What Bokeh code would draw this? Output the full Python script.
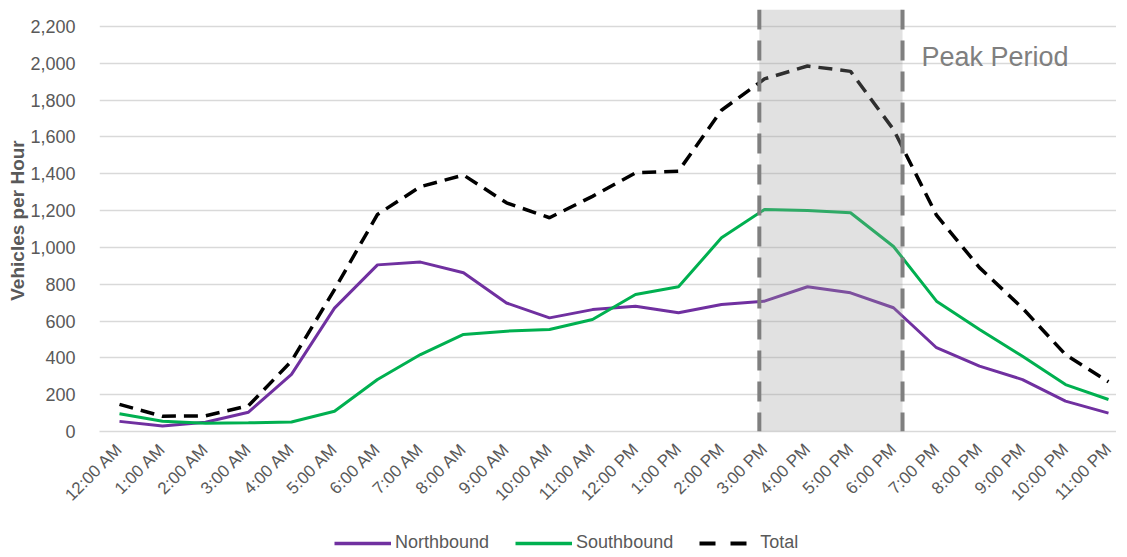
import math
from bokeh.plotting import figure
from bokeh.layouts import column
from bokeh.models import (ColumnDataSource, FixedTicker, NumeralTickFormatter, BoxAnnotation,
                          Span, Label, Legend, LegendItem, Range1d)
from bokeh.embed import file_html
from bokeh.resources import INLINE

hours = ["12:00 AM", "1:00 AM", "2:00 AM", "3:00 AM", "4:00 AM", "5:00 AM", "6:00 AM",
         "7:00 AM", "8:00 AM", "9:00 AM", "10:00 AM", "11:00 AM", "12:00 PM", "1:00 PM",
         "2:00 PM", "3:00 PM", "4:00 PM", "5:00 PM", "6:00 PM", "7:00 PM", "8:00 PM",
         "9:00 PM", "10:00 PM", "11:00 PM"]
northbound = [55, 30, 50, 105, 310, 670, 905, 920, 862, 698, 617, 662, 680, 645, 690, 708,
              786, 753, 672, 455, 355, 282, 165, 100]
southbound = [96, 56, 45, 47, 52, 110, 282, 418, 527, 545, 554, 608, 744, 786, 1052, 1206,
              1200, 1188, 1005, 708, 554, 409, 255, 174]
total = [147, 83, 85, 140, 382, 771, 1179, 1330, 1393, 1242, 1161, 1277, 1405, 1414, 1745,
         1915, 1985, 1956, 1640, 1175, 890, 670, 418, 270]
y_ticks = [0, 200, 400, 600, 800, 1000, 1200, 1400, 1600, 1800, 2000, 2200]
series_names = ["Northbound", "Southbound", "Total"]
peak_start, peak_end = 14.88, 18.21
peak_label = "Peak Period"

FONT = "Liberation Sans"
GREY = "#595959"
NB_COLOR, SB_COLOR, TOT_COLOR = "#7030A0", "#00B050", "black"
TOT_DASH = "14 8"

idx = list(range(len(hours)))
src = ColumnDataSource(dict(x=idx, nb=northbound, sb=southbound, tot=total))

W, H = 1116, 522
LEFT, TOP, FRAME_H = 99, 9, 422
p = figure(width=W, height=H, output_backend="svg", toolbar_location=None,
           x_range=Range1d(-0.465, -0.465 + (W - LEFT) / 43.0), y_range=Range1d(0, 2292),
           min_border_left=LEFT, min_border_right=0, min_border_top=TOP,
           min_border_bottom=H - TOP - FRAME_H)
p.outline_line_color = None
p.background_fill_color = "white"
p.border_fill_color = "white"

p.line("x", "nb", source=src, line_color=NB_COLOR, line_width=3)
p.line("x", "sb", source=src, line_color=SB_COLOR, line_width=3)
p.line("x", "tot", source=src, line_color=TOT_COLOR, line_width=3.5, line_dash=TOT_DASH)

# peak period shading (overlay on top of lines)
box = BoxAnnotation(left=peak_start, right=peak_end, bottom=0, fill_color="#9a9a9a",
                    fill_alpha=0.3, line_color=None, level="overlay")
p.add_layout(box)
for xv in (peak_start, peak_end):
    p.add_layout(Span(location=xv, dimension="height", line_color="#7f7f7f", line_width=4,
                      line_dash="20 11", level="overlay"))

p.add_layout(Label(x=18.65, y=2035, text=peak_label, text_font=FONT, text_font_size="27px",
                   text_color="#7f7f7f", text_baseline="middle"))

# axes
p.xaxis.ticker = FixedTicker(ticks=idx)
p.xaxis.major_label_overrides = {i: h for i, h in enumerate(hours)}
p.xaxis.major_label_orientation = math.pi / 4
p.xaxis.major_label_text_font = FONT
p.xaxis.major_label_text_font_size = "17px"
p.xaxis.major_label_text_color = GREY
p.xaxis.axis_line_color = "#d9d9d9"
p.xaxis.axis_line_width = 1.5
p.xaxis.major_tick_line_color = None
p.xaxis.minor_tick_line_color = None
p.xaxis.major_label_standoff = 9
p.xgrid.grid_line_color = None

p.yaxis.ticker = FixedTicker(ticks=y_ticks)
p.yaxis.formatter = NumeralTickFormatter(format="0,0")
p.yaxis.major_label_text_font = FONT
p.yaxis.major_label_text_font_size = "18px"
p.yaxis.major_label_text_color = GREY
p.yaxis.axis_line_color = None
p.yaxis.major_tick_line_color = None
p.yaxis.minor_tick_line_color = None
p.yaxis.major_label_standoff = 18
p.yaxis.axis_label = "Vehicles per Hour"
p.yaxis.axis_label_text_font = FONT
p.yaxis.axis_label_text_font_size = "19px"
p.yaxis.axis_label_text_font_style = "bold"
p.yaxis.axis_label_text_color = GREY
p.yaxis.axis_label_standoff = -1
p.ygrid.grid_line_color = "#d9d9d9"
p.ygrid.grid_line_width = 1.5

# legend strip below the chart (separate figure so it is not clipped);
# its proxy lines use the same data but fall outside this strip's range
LH = 32
p2 = figure(width=W, height=LH, output_backend="svg", toolbar_location=None,
            x_axis_location=None, y_axis_location=None,
            x_range=Range1d(0, 1), y_range=Range1d(-2, -1),
            min_border_left=0, min_border_right=0, min_border_top=0, min_border_bottom=0)
p2.outline_line_color = None
p2.grid.visible = False
p2.background_fill_color = "white"
p2.border_fill_color = "white"
g_nb = p2.line("x", "nb", source=src, line_color=NB_COLOR, line_width=3.5)
g_sb = p2.line("x", "sb", source=src, line_color=SB_COLOR, line_width=3.5)
g_tot = p2.line("x", "tot", source=src, line_color=TOT_COLOR, line_width=4, line_dash="16 15")

legend = Legend(items=[LegendItem(label=series_names[0], renderers=[g_nb]),
                       LegendItem(label=series_names[1], renderers=[g_sb]),
                       LegendItem(label=series_names[2], renderers=[g_tot])],
                orientation="horizontal", location=(235, 1), padding=0, margin=0,
                spacing=26, label_standoff=4, glyph_width=57, glyph_height=18,
                label_height=18,
                label_text_font=FONT, label_text_font_size="18px", label_text_color=GREY,
                background_fill_alpha=0, border_line_color=None)
p2.add_layout(legend, "center")

layout = column(p, p2, spacing=0)
open("out.html", "w").write(file_html(layout, INLINE))
